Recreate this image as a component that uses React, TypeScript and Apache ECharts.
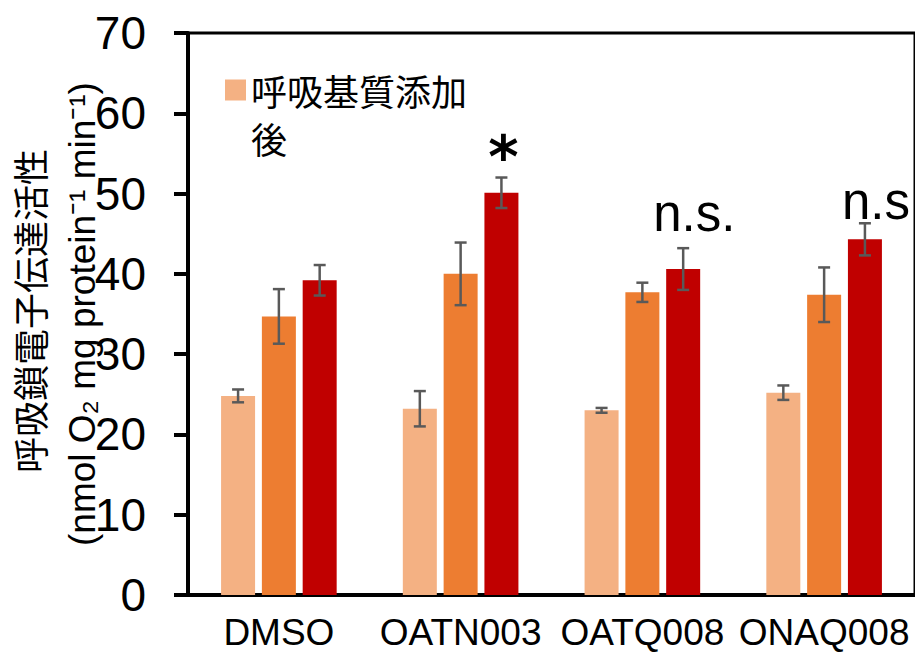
import React, { useEffect, useRef } from "react";
import * as echarts from "echarts";

const categories = ["DMSO", "OATN003", "OATQ008", "ONAQ008"];
const seriesNames = ["呼吸基質添加後", "系列2", "系列3"];
const lightValues = [24.8, 23.2, 23.0, 25.2];
const lightErrors = [0.8, 2.2, 0.3, 0.9];
const orangeValues = [34.7, 40.0, 37.7, 37.4];
const orangeErrors = [3.4, 3.9, 1.2, 3.4];
const redValues = [39.2, 50.1, 40.6, 44.3];
const redErrors = [1.9, 1.9, 2.6, 2.0];
const seriesColors = ["#F4B183", "#ED7D31", "#C00000"];
const yTicks = [0, 10, 20, 30, 40, 50, 60, 70];
const annotCategoryIdx = [1, 2, 3];
const annotTexts = ["*", "n.s.", "n.s"];
const annotLevels = [55.7, 45.6, 47.1];
const yTitleLine1 = "呼吸鎖電子伝達活性";
const yTitleLine2 = "(nmol O₂ mg protein⁻¹ min⁻¹)";

const BAR_W = 34;
const BAR_STEP = 40.8;

export default function App() {
  const ref = useRef<HTMLDivElement>(null);
  useEffect(() => {
    document.body.style.margin = "0";
    if (!ref.current) return;
    const chart = echarts.init(ref.current, null, { renderer: "svg" });
    const allValues = [lightValues, orangeValues, redValues];
    const allErrors = [lightErrors, orangeErrors, redErrors];
    const errData: number[][] = [];
    allValues.forEach((vals, s) => {
      vals.forEach((v, i) => errData.push([i, v, allErrors[s][i], s]));
    });
    const latin = "'Liberation Sans', Arial, sans-serif";
    const cjk = "'Noto Sans CJK JP', sans-serif";
    const option: any = {
      animation: false,
      grid: {
        left: 188,
        top: 33,
        width: 732,
        height: 562,
        show: true,
        borderColor: "#000",
        borderWidth: 3,
        backgroundColor: "transparent",
      },
      legend: {
        data: [seriesNames[0]],
        left: 225,
        top: 18,
        padding: 0,
        itemWidth: 21,
        itemHeight: 21,
        itemGap: 0,
        icon: "rect",
        formatter: () => "\n呼吸基質添加\n後",
        textStyle: {
          fontFamily: cjk,
          fontSize: 36,
          color: "#000",
          lineHeight: 48,
        },
      },
      xAxis: {
        type: "category",
        data: categories,
        axisLine: { show: true, lineStyle: { color: "#000", width: 4 } },
        axisTick: { show: false },
        axisLabel: {
          interval: 0,
          color: "#000",
          fontFamily: latin,
          fontSize: 37,
          margin: 19,
        },
      },
      yAxis: {
        type: "value",
        min: 0,
        max: 70,
        interval: 10,
        axisLine: { show: true, lineStyle: { color: "#000", width: 4 } },
        axisTick: { show: true, length: 14, lineStyle: { color: "#000", width: 4 } },
        splitLine: { show: false },
        axisLabel: {
          color: "#000",
          fontFamily: latin,
          fontSize: 46,
          margin: 42,
          formatter: (v: number) => (yTicks.includes(v) ? String(v) : ""),
        },
      },
      graphic: [
        {
          type: "text",
          x: 29,
          y: 311,
          rotation: Math.PI / 2,
          style: {
            text: yTitleLine1,
            font: `36px ${cjk}`,
            fill: "#000",
            align: "center",
            verticalAlign: "middle",
          },
        },
        {
          type: "text",
          x: 82,
          y: 314,
          rotation: Math.PI / 2,
          style: {
            text: yTitleLine2,
            font: `37px ${latin}`,
            fill: "#000",
            align: "center",
            verticalAlign: "middle",
          },
        },
      ],
      series: [
        ...allValues.map((vals, s) => ({
          name: seriesNames[s],
          type: "bar",
          data: vals,
          barWidth: BAR_W,
          barGap: "20%",
          itemStyle: { color: seriesColors[s] },
        })),
        {
          type: "custom",
          name: "errors",
          z: 5,
          data: errData,
          encode: { x: 0, y: 1 },
          renderItem: (params: any, api: any) => {
            const i = api.value(0);
            const v = api.value(1);
            const e = api.value(2);
            const s = api.value(3);
            const top = api.coord([i, v + e]);
            const bot = api.coord([i, v - e]);
            const x = top[0] + (s - 1) * BAR_STEP;
            const st = { stroke: "#595959", lineWidth: 2.5 };
            return {
              type: "group",
              children: [
                { type: "line", shape: { x1: x, y1: top[1], x2: x, y2: bot[1] }, style: st },
                { type: "line", shape: { x1: x - 6, y1: top[1], x2: x + 6, y2: top[1] }, style: st },
                { type: "line", shape: { x1: x - 6, y1: bot[1], x2: x + 6, y2: bot[1] }, style: st },
              ],
            };
          },
        },
        {
          type: "custom",
          name: "annotations",
          z: 6,
          data: annotCategoryIdx.map((c, k) => [c, annotLevels[k]]),
          encode: { x: 0, y: 1 },
          renderItem: (params: any, api: any) => {
            const k = params.dataIndex;
            const p = api.coord([api.value(0), api.value(1)]);
            const xc = p[0] + BAR_STEP;
            const txt = annotTexts[k];
            if (txt === "*") {
              return {
                type: "text",
                x: xc + 2,
                y: p[1] + 9,
                style: {
                  text: txt,
                  font: `bold 58px 'DejaVu Sans', sans-serif`,
                  fill: "#000",
                  align: "center",
                  verticalAlign: "middle",
                },
              };
            }
            return {
              type: "text",
              x: xc + (k === 1 ? -30 : -23),
              y: p[1] + 10,
              style: {
                text: txt,
                font: `51px ${latin}`,
                fill: "#000",
                align: "left",
                verticalAlign: "bottom",
              },
            };
          },
        },
      ],
    };
    chart.setOption(option);
    return () => chart.dispose();
  }, []);
  return <div ref={ref} style={{ width: 915, height: 654 }} />;
}
